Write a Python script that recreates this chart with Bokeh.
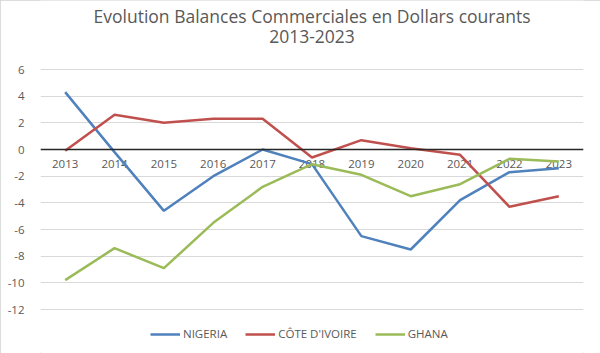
from bokeh.plotting import figure
from bokeh.models import Range1d, Label, Legend, LegendItem, FixedTicker, Span
from bokeh.core.properties import value
from bokeh.embed import file_html
from bokeh.resources import INLINE

years = ["2013", "2014", "2015", "2016", "2017", "2018", "2019", "2020", "2021", "2022", "2023"]
nigeria = [4.3, -0.2, -4.6, -2.0, 0.0, -1.1, -6.5, -7.5, -3.8, -1.7, -1.4]
cote = [-0.1, 2.6, 2.0, 2.3, 2.3, -0.6, 0.7, 0.1, -0.4, -4.3, -3.5]
ghana = [-9.8, -7.4, -8.9, -5.5, -2.8, -1.1, -1.9, -3.5, -2.6, -0.7, -0.9]
y_ticks = [6, 4, 2, 0, -2, -4, -6, -8, -10, -12]
y_tick_labels = ["6", "4", "2", "0", "-2", "-4", "-6", "-8", "-10", "-12"]
title_lines = ["Evolution Balances Commerciales en Dollars courants", "2013-2023"]
series_names = ["NIGERIA", "CÔTE D'IVOIRE", "GHANA"]
colors = ["#4F81BD", "#C0504D", "#9BBB59"]

FONT = "Open Sans"
GRAY = "#595959"

xs = list(range(len(years)))

# plot area: value axis 6..-12 spans pixels 69..309 of a 353px tall canvas
PX_PER_UNIT = 240 / (max(y_ticks) - min(y_ticks))
y_top = max(y_ticks) + 69 / PX_PER_UNIT
y_bot = min(y_ticks) - 44 / PX_PER_UNIT

p = figure(width=600, height=353, output_backend="svg", toolbar_location=None,
           x_axis_location=None,
           x_range=Range1d(-0.5, len(years) - 0.5), y_range=Range1d(y_bot, y_top),
           min_border_left=40, min_border_right=17, min_border_top=0, min_border_bottom=0)
p.outline_line_color = None
p.background_fill_color = "white"
p.border_fill_color = "white"
p.styles = {"outline": "1px solid #D0D0D0", "outline-offset": "-1px"}

p.xgrid.visible = False
p.yaxis.ticker = FixedTicker(ticks=y_ticks)
p.yaxis.major_label_overrides = dict(zip(y_ticks, y_tick_labels))
p.yaxis.axis_line_color = None
p.yaxis.major_tick_line_color = None
p.yaxis.minor_tick_line_color = None
p.yaxis.major_label_standoff = 10
p.yaxis.major_label_text_font = FONT
p.yaxis.major_label_text_font_size = "11.5px"
p.yaxis.major_label_text_color = GRAY
p.ygrid.grid_line_color = "#D9D9D9"
p.ygrid.grid_line_width = 1

zero = Span(location=0, dimension="width", line_color="#262626", line_width=1.5)
p.add_layout(zero)

# category labels next to zero axis
p.text(x=xs, y=[0] * len(years), text=years, y_offset=14, text_align="center",
       text_baseline="middle", text_font=value(FONT), text_font_size="11.5px", text_color=GRAY)

renderers = []
for vals, c in zip([nigeria, cote, ghana], colors):
    r = p.line(xs, vals, line_color=c, line_width=2.5)
    renderers.append(r)

legend = Legend(items=[LegendItem(label=n, renderers=[r]) for n, r in zip(series_names, renderers)],
                orientation="horizontal", location=(110, 12), padding=0, margin=0,
                spacing=18, glyph_width=30, glyph_height=14, label_standoff=3,
                label_text_font=FONT, label_text_font_size="11.5px", label_text_color=GRAY,
                border_line_color=None, background_fill_alpha=0)
p.add_layout(legend, "center")

xc = (len(years) - 1) / 2
p.add_layout(Label(x=xc, y=y_top - 15 / PX_PER_UNIT, text=title_lines[0], text_align="center",
                   text_baseline="middle", text_font=FONT, text_font_size="17.5px", text_color=GRAY))
p.add_layout(Label(x=xc, y=y_top - 36 / PX_PER_UNIT, text=title_lines[1], text_align="center",
                   text_baseline="middle", text_font=FONT, text_font_size="17.5px", text_color=GRAY))

open("out.html", "w").write(file_html(p, INLINE))
